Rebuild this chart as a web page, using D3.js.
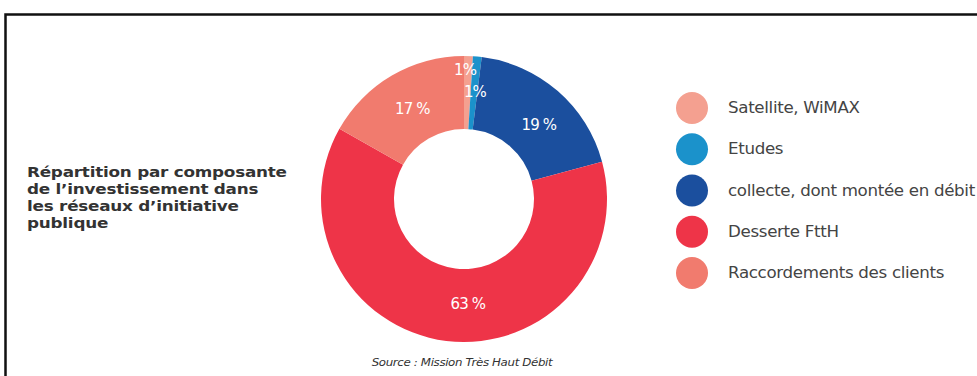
<!DOCTYPE html>
<html>
<head>
<meta charset="utf-8">
<script src="https://cdn.jsdelivr.net/npm/d3@7/dist/d3.min.js"></script>
<style>
  html, body { margin: 0; padding: 0; background: #fff; }
  svg { display: block; }
</style>
</head>
<body>
<svg id="chart" width="977" height="376"></svg>
<script>
// Investment breakdown by component (percent)
const categories = [
  "Satellite, WiMAX",
  "Etudes",
  "collecte, dont montée en débit",
  "Desserte FttH",
  "Raccordements des clients"
];
const values = [1, 1, 19, 63, 17];
const colors = ["#F4A090", "#1B92CB", "#1B4F9E", "#EE3448", "#F17B6E"];
const titleLines = [
  "Répartition par composante",
  "de l’investissement dans",
  "les réseaux d’initiative",
  "publique"
];
const sourceText = "Source : Mission Très Haut Débit";

const svg = d3.select("#chart");
const font = "'DejaVu Sans', 'Open Sans', sans-serif";

// Horizontal stretch so that a text node reaches the wanted width
function stretchFor(node, width) {
  return width / node.getComputedTextLength();
}

// Frame
svg.append("rect")
  .attr("x", 5.5).attr("y", 14.5)
  .attr("width", 1200).attr("height", 600)
  .attr("fill", "none")
  .attr("stroke", "#111")
  .attr("stroke-width", 2.5);

// Title block
const titleG = svg.append("g");
const title = titleG.append("text")
  .attr("x", 0).attr("y", 177)
  .attr("font-family", font)
  .attr("font-size", 14.5)
  .attr("font-weight", "bold")
  .attr("letter-spacing", -0.2)
  .attr("fill", "#333");
title.selectAll("tspan").data(titleLines).join("tspan")
  .attr("x", 0)
  .attr("dy", (d, i) => i === 0 ? 0 : 17)
  .text(d => d);
titleG.attr("transform",
  `translate(27,0) scale(${stretchFor(title.select("tspan").node(), 260)},1)`);

// Donut
const cx = 464, cy = 199, rOuter = 143, rInner = 70;
const g = svg.append("g").attr("transform", `translate(${cx},${cy})`);

const pie = d3.pie().sort(null).value(d => d)(values);
const arc = d3.arc().innerRadius(rInner).outerRadius(rOuter);

g.selectAll("path.slice").data(pie).join("path")
  .attr("class", "slice")
  .attr("d", arc)
  .attr("fill", (d, i) => colors[i]);

// Value labels: the two thinnest slices are staggered outward/inward,
// the others sit on the ring's mid radius with a small hand nudge
const labelRadius = i => i === 0 ? 129 : i === 1 ? 107 : (rInner + rOuter) / 2;
const labelNudge = [[-3, 0], [1, 0], [5, 6], [17, -1], [2, 2]];
g.selectAll("text.val").data(pie).join("text")
  .attr("class", "val")
  .attr("transform", (d, i) => {
    const r = labelRadius(i);
    const a = (d.startAngle + d.endAngle) / 2;
    const [nx, ny] = labelNudge[i];
    return `translate(${Math.sin(a) * r + nx},${-Math.cos(a) * r + ny})`;
  })
  .attr("text-anchor", "middle")
  .attr("dominant-baseline", "central")
  .attr("font-family", font)
  .attr("font-size", 15)
  .attr("letter-spacing", -0.9)
  .attr("fill", "#fff")
  .text((d, i) => i < 2 ? `${values[i]}%` : `${values[i]} %`);

// Legend
const legend = svg.append("g");
const legendY = d3.scalePoint().domain(categories).range([108, 273]);
legend.selectAll("circle").data(categories).join("circle")
  .attr("cx", 692)
  .attr("cy", d => legendY(d))
  .attr("r", 16)
  .attr("fill", (d, i) => colors[i]);
const legendTextG = legend.append("g")
  .attr("font-family", font)
  .attr("font-size", 15)
  .attr("letter-spacing", -0.3)
  .attr("fill", "#444");
const legendText = legendTextG.selectAll("text").data(categories).join("text")
  .attr("x", 0)
  .attr("y", d => legendY(d))
  .attr("dominant-baseline", "central")
  .text(d => d);
legendTextG.attr("transform",
  `translate(728,0) scale(${stretchFor(legendText.nodes()[2], 247)},1)`);

// Source note
const srcG = svg.append("g");
const src = srcG.append("text")
  .attr("x", 0).attr("y", 366)
  .attr("text-anchor", "middle")
  .attr("font-family", font)
  .attr("font-size", 10)
  .attr("font-style", "italic")
  .attr("letter-spacing", -0.3)
  .attr("fill", "#333")
  .text(sourceText);
srcG.attr("transform", `translate(462,0) scale(${stretchFor(src.node(), 181)},1)`);
</script>
</body>
</html>
